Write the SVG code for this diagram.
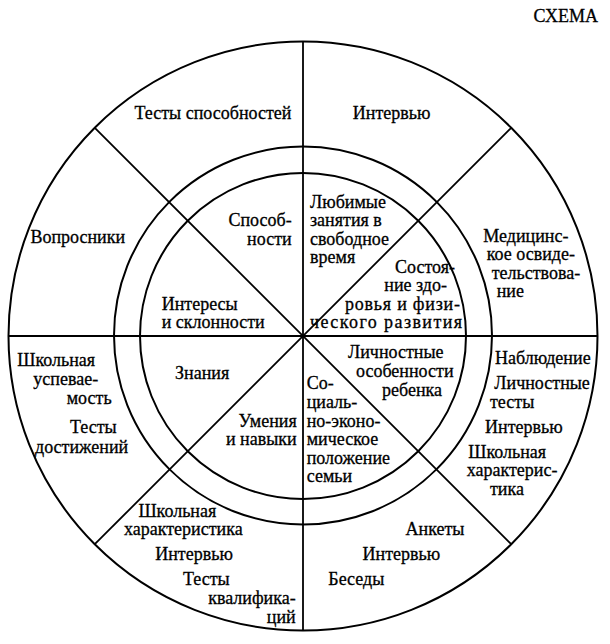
<svg xmlns="http://www.w3.org/2000/svg" width="610" height="644" viewBox="0 0 610 644">
<style>
  .ring { fill: none; stroke: #000; stroke-width: 2; }
  .spoke { stroke: #000; stroke-width: 1.8; fill: none; }
  text { font-family: "Liberation Serif", "Times New Roman", serif; font-size: 18px; fill: #000; stroke: #000; stroke-width: 0.3; }
  .e { text-anchor: end; }
</style>
<rect width="610" height="644" fill="#fff"/>

<text id="title" x="598" y="22" class="e">СХЕМА</text>

<g id="rings">
  <circle class="ring" cx="303" cy="336" r="294.5"/>
  <circle class="ring" cx="303" cy="335.5" r="189"/>
  <circle class="ring" cx="303" cy="336" r="163"/>
</g>

<g id="connectors">
  <line class="spoke" x1="303" y1="41.5" x2="303" y2="630.5"/>
  <line class="spoke" x1="8.5" y1="336" x2="597.5" y2="336"/>
  <line class="spoke" x1="94.8" y1="127.8" x2="511.2" y2="544.2"/>
  <line class="spoke" x1="511.2" y1="127.8" x2="94.8" y2="544.2"/>
</g>

<g id="outer-ability-tests">
  <text x="134.5" y="119">Тесты способностей</text>
</g>
<g id="outer-interview-top">
  <text x="352.8" y="119">Интервью</text>
</g>
<g id="outer-questionnaires">
  <text x="30.4" y="243">Вопросники</text>
</g>
<g id="outer-medical">
  <text x="483.3" y="241.5">Медицинс-</text>
  <text x="486.7" y="260">кое освиде-</text>
  <text x="491.7" y="278.5">тельствова-</text>
  <text x="496.7" y="297">ние</text>
</g>
<g id="outer-observation">
  <text x="495" y="363.5">Наблюдение</text>
  <text x="494.3" y="389">Личностные</text>
  <text x="490" y="408">тесты</text>
  <text x="485" y="433.3">Интервью</text>
  <text x="468.3" y="457.5">Школьная</text>
  <text x="466.7" y="476">характерис-</text>
  <text x="490" y="494.5">тика</text>
</g>
<g id="outer-school-performance">
  <text x="17.3" y="365.7">Школьная</text>
  <text x="33.3" y="385">успевае-</text>
  <text x="66.7" y="404">мость</text>
  <text x="70" y="433.3">Тесты</text>
  <text x="35" y="453">достижений</text>
</g>
<g id="outer-school-reference">
  <text x="138.4" y="516.5">Школьная</text>
  <text x="124" y="535">характеристика</text>
  <text x="155.2" y="560">Интервью</text>
  <text x="183" y="585">Тесты</text>
  <text x="295.7" y="604" class="e">квалифика-</text>
  <text x="295.7" y="622.5" class="e">ций</text>
</g>
<g id="outer-surveys">
  <text x="405.5" y="535">Анкеты</text>
  <text x="362.6" y="560">Интервью</text>
  <text x="328.3" y="585">Беседы</text>
</g>

<g id="inner-abilities">
  <text x="291.7" y="226" class="e">Способ-</text>
  <text x="291.7" y="244.5" class="e">ности</text>
</g>
<g id="inner-hobbies">
  <text x="310" y="207.5">Любимые</text>
  <text x="310" y="226">занятия в</text>
  <text x="310" y="244.5">свободное</text>
  <text x="310" y="263">время</text>
</g>
<g id="inner-health">
  <text x="455" y="272.5" class="e">Состоя-</text>
  <text x="447" y="291" class="e">ние здо-</text>
  <text x="345" y="309.5" textLength="115">ровья и физи-</text>
  <text x="310" y="328" textLength="152">ческого развития</text>
</g>
<g id="inner-interests">
  <text x="161.7" y="309.5">Интересы</text>
  <text x="161.7" y="328">и склонности</text>
</g>
<g id="inner-knowledge">
  <text x="175" y="379.3">Знания</text>
</g>
<g id="inner-personality">
  <text x="348" y="358">Личностные</text>
  <text x="356" y="377">особенности</text>
  <text x="382" y="395.5">ребенка</text>
</g>
<g id="inner-skills">
  <text x="296.7" y="426.5" class="e">Умения</text>
  <text x="296.7" y="445" class="e">и навыки</text>
</g>
<g id="inner-socioeconomic">
  <text x="306.7" y="389">Со-</text>
  <text x="306.7" y="408">циаль-</text>
  <text x="306.7" y="426.5">но-эконо-</text>
  <text x="306.7" y="445">мическое</text>
  <text x="306.7" y="463.5">положение</text>
  <text x="306.7" y="482">семьи</text>
</g>
</svg>
